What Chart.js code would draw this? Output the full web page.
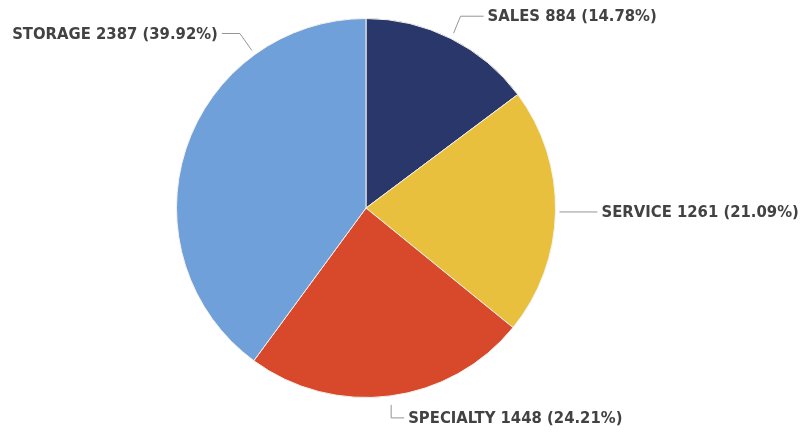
<!DOCTYPE html>
<html>
<head>
<meta charset="utf-8">
<script src="https://cdn.jsdelivr.net/npm/chart.js@4/dist/chart.umd.min.js"></script>
<style>
  html, body { margin: 0; padding: 0; background: #ffffff; }
  canvas { display: block; }
</style>
</head>
<body>
<canvas id="deptChart" width="809" height="435"></canvas>
<script>
// Headcount by department
const labels = ['SALES', 'SERVICE', 'SPECIALTY', 'STORAGE'];
const values = [884, 1261, 1448, 2387];
const colors = ['#2a376a', '#e8c03d', '#d8492b', '#70a0da'];

// Where each callout leaves its slice (fraction along the arc) and how the leader bends
const callouts = [
    { frac: 0.5,  gap: 6, path: [[7, -17], [30, -17]], align: 'left' },
    { frac: 0.5,  gap: 4, path: [[38, 0]], align: 'left' },
    { frac: 0.5,  gap: 9, path: [[0, 13], [13, 13]], align: 'left' },
    { frac: 0.75, gap: 5, path: [[-12, -17], [-30, -17]], align: 'right' }
];

const total = values.reduce((a, b) => a + b, 0);

const calloutPlugin = {
    id: 'callouts',
    afterDatasetsDraw(chart) {
        const ctx = chart.ctx;
        const arcs = chart.getDatasetMeta(0).data;
        ctx.save();
        ctx.font = 'bold 16.5px "DejaVu Sans Condensed", "DejaVu Sans", sans-serif';
        ctx.textBaseline = 'middle';
        arcs.forEach((arc, i) => {
            const c = callouts[i];
            const a = arc.startAngle + (arc.endAngle - arc.startAngle) * c.frac;
            const r = arc.outerRadius + c.gap;
            const sx = arc.x + Math.cos(a) * r;
            const sy = arc.y + Math.sin(a) * r;

            // leader line
            ctx.strokeStyle = '#959595';
            ctx.lineWidth = 1;
            ctx.beginPath();
            ctx.moveTo(sx, sy);
            c.path.forEach(p => ctx.lineTo(sx + p[0], sy + p[1]));
            ctx.stroke();

            const end = c.path[c.path.length - 1];
            const pct = (values[i] / total * 100).toFixed(2);
            const text = labels[i] + ' ' + values[i] + ' (' + pct + '%)';
            ctx.fillStyle = '#424242';
            ctx.textAlign = c.align;
            const tx = sx + end[0] + (c.align === 'left' ? 4 : -4);
            ctx.fillText(text, tx, sy + end[1] + 1);
        });
        ctx.restore();
    }
};

new Chart(document.getElementById('deptChart'), {
    type: 'pie',
    data: {
        labels: labels,
        datasets: [{
            data: values,
            backgroundColor: colors,
            borderColor: '#f4f1ea',
            borderWidth: 1
        }]
    },
    options: {
        responsive: false,
        animation: false,
        layout: { padding: { left: 176, right: 253, top: 18, bottom: 37 } },
        plugins: {
            legend: { display: false },
            tooltip: { enabled: false }
        }
    },
    plugins: [calloutPlugin]
});
</script>
</body>
</html>
